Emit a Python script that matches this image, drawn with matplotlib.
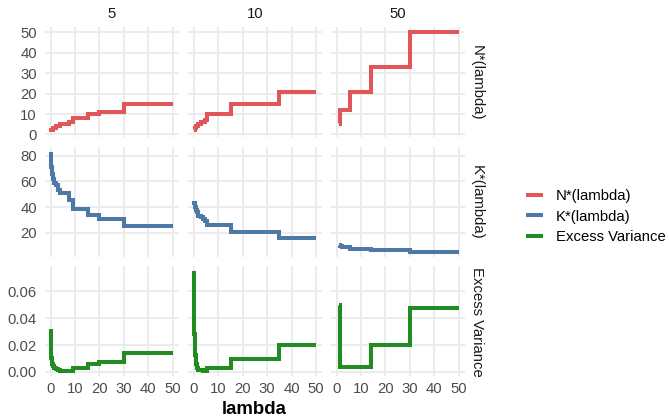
import numpy as np
import matplotlib
matplotlib.use("Agg")
import matplotlib.pyplot as plt
from matplotlib.lines import Line2D

plt.rcParams['font.family'] = ['Liberation Sans', 'DejaVu Sans']

# facet columns (budget) and rows (metric)
budgets = ["5", "10", "50"]
metrics = ["N*(lambda)", "K*(lambda)", "Excess Variance"]
colors = ["#E15759", "#4E79A7", "#228B22"]

# budget 5
lam_5 = [0, 0.3, 0.6, 1, 1.5, 2, 3, 3.8, 7.5, 9.3, 15.5, 20, 30, 50]
n_5 = [1, 2, 2, 3, 3, 4, 4, 5, 6, 8, 10, 11, 15, 15]
k_5 = [83, 71, 66, 62, 59, 57, 53, 51, 45.5, 38.5, 34, 31, 25, 25]
ev_5 = [0.032, 0.010, 0.006, 0.004, 0.003, 0.002, 0.001, 0.0004,
        0.0008, 0.003, 0.0055, 0.0075, 0.0138, 0.0138]

# budget 10
lam_10 = [0, 0.1, 0.4, 0.7, 1.1, 1.8, 2.7, 3.8, 4.5, 5.5, 15, 35, 50]
n_10 = [2, 2, 3, 4, 4, 5, 6, 6, 7, 10, 15, 21, 21]
k_10 = [44.5, 43, 40, 37.5, 36, 33, 32, 30.5, 29, 26, 20.8, 16.2, 16.2]
ev_10 = [0.075, 0.028, 0.0126, 0.006, 0.0025, 0.0015, 0.001, 0.0005,
         0.0003, 0.0025, 0.0096, 0.0197, 0.0197]

# budget 50
lam_50 = [1, 1.2, 2, 5.5, 14, 30, 50]
n_50 = [5, 12, 12, 21, 33, 50, 50]
k_50 = [10.2, 9.5, 8.8, 7.8, 6.5, 5.2, 5.2]
ev_50 = [0.050, 0.0038, 0.0037, 0.0036, 0.0197, 0.0474, 0.0474]

lams = {"5": lam_5, "10": lam_10, "50": lam_50}
values = {
    "5": [n_5, k_5, ev_5],
    "10": [n_10, k_10, ev_10],
    "50": [n_50, k_50, ev_50],
}

row_ticks = [[0, 10, 20, 30, 40, 50], [20, 40, 60, 80], [0.0, 0.02, 0.04, 0.06]]
row_fmt = ["{:.0f}", "{:.0f}", "{:.2f}"]
x_ticks = [0, 10, 20, 30, 40, 50]

# layout in pixels
W, H = 669, 420
col_left = [44.6, 187.9, 330.6]
col_w = 134.1
row_top = [27.4, 146.9, 266.4]
row_h = 110.0

small = 10.7   # tick, strip and legend text
fig = plt.figure(figsize=(W / 100, H / 100), dpi=100)

grid_col = "#EBEBEB"
tick_col = "#4D4D4D"

for r, metric in enumerate(metrics):
    # shared y range per row, ggplot-like 5% expansion
    all_vals = np.concatenate([np.asarray(values[b][r], float) for b in budgets])
    lo, hi = all_vals.min(), all_vals.max()
    pad = 0.05 * (hi - lo)
    for c, b in enumerate(budgets):
        ax = fig.add_axes([col_left[c] / W, 1 - (row_top[r] + row_h) / H,
                           col_w / W, row_h / H])
        x = np.asarray(lams[b], float)
        y = np.asarray(values[b][r], float)
        ax.plot(x, y, drawstyle="steps-post", color=colors[r], lw=2.9,
                solid_capstyle="butt", solid_joinstyle="miter")
        ax.set_xlim(-2.5, 52.5)
        ax.set_ylim(lo - pad, hi + pad)
        ax.set_xticks(x_ticks)
        ax.set_yticks(row_ticks[r])
        ax.grid(True, color=grid_col, lw=1.3)
        ax.set_axisbelow(True)
        for s in ax.spines.values():
            s.set_visible(False)
        ax.tick_params(length=0, labelsize=small, labelcolor=tick_col)
        ax.tick_params(axis="y", pad=5.5)
        ax.tick_params(axis="x", pad=4)
        if c == 0:
            ax.set_yticklabels([row_fmt[r].format(t) for t in row_ticks[r]])
        else:
            ax.set_yticklabels([])
        if r == 2:
            ax.set_xticklabels([str(t) for t in x_ticks])
        else:
            ax.set_xticklabels([])

# strip labels
for c, b in enumerate(budgets):
    fig.text((col_left[c] + col_w / 2) / W, 1 - 14 / H, b, ha="center",
             va="center", fontsize=small, color="#1A1A1A")
for r, metric in enumerate(metrics):
    fig.text(477 / W, 1 - (row_top[r] + row_h / 2) / H, metric, ha="center",
             va="center", rotation=-90, fontsize=small, color="#1A1A1A")

fig.text((col_left[0] + col_left[2] + col_w) / 2 / W, 1 - 409 / H, "lambda",
         ha="center", va="center", fontsize=13.4, fontweight="bold")

handles = [Line2D([], [], color=colors[i], lw=2.9, solid_capstyle="butt")
           for i in range(3)]
fig.legend(handles, metrics, loc="center left",
           bbox_to_anchor=(526 / W, 1 - 216.7 / H), frameon=False,
           fontsize=small, handlelength=1.14, handletextpad=0.85,
           labelspacing=0.42, borderpad=0, borderaxespad=0)

fig.savefig("out.png", dpi=100)
